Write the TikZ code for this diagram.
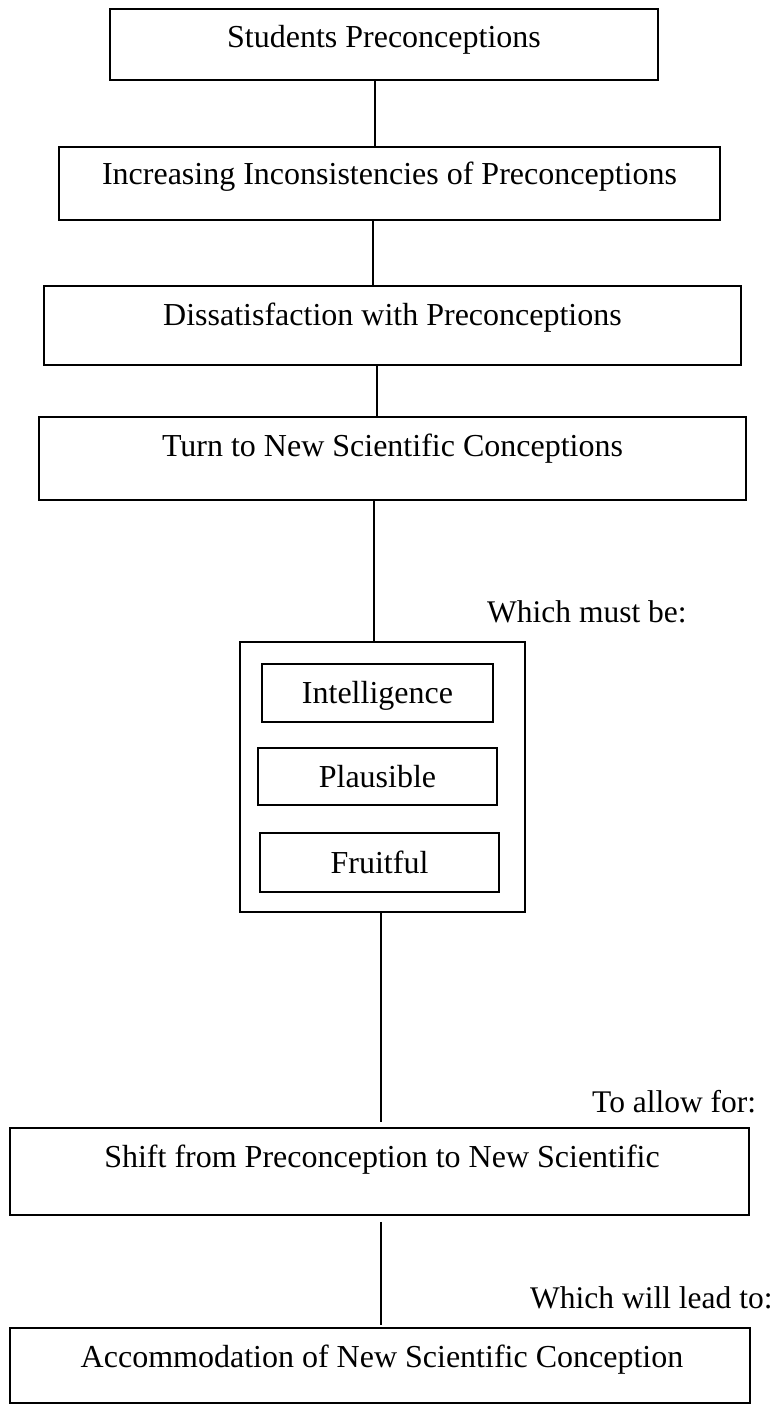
\documentclass[tikz,border=0pt]{standalone}
\usepackage{fontspec}
\setmainfont{Liberation Serif}
\begin{document}
\begin{tikzpicture}[x=1pt,y=-1pt,
  box/.style={draw=black, line width=1.7pt, rectangle, inner sep=0pt},
  txt/.style={anchor=base, inner sep=0pt, font=\fontsize{32pt}{38pt}\selectfont},
  side/.style={anchor=base west, inner sep=0pt, font=\fontsize{31.5pt}{38pt}\selectfont},
  conn/.style={draw=black, line width=1.4pt}]
\useasboundingbox (0,0) rectangle (778,1404);
% boxes
\node[box, minimum width=548pt, minimum height=71pt] (b1) at (384,44.5) {};
\node[txt] (b1t) at (384,48) {Students Preconceptions};
\node[box, minimum width=661pt, minimum height=73pt] (b2) at (389.5,183.5) {};
\node[txt] (b2t) at (389.5,185) {Increasing Inconsistencies of Preconceptions};
\node[box, minimum width=697pt, minimum height=79pt] (b3) at (392.5,325.5) {};
\node[txt] (b3t) at (392.5,325) {Dissatisfaction with Preconceptions};
\node[box, minimum width=707pt, minimum height=83pt] (b4) at (392.5,458.5) {};
\node[txt] (b4t) at (392.5,456) {Turn to New Scientific Conceptions};
% criteria group
\node[box, minimum width=285pt, minimum height=270pt] (grp) at (382.5,777) {};
\node[box, minimum width=231pt, minimum height=58pt] (c1) at (377.5,693) {};
\node[txt] (c1t) at (377.5,703) {Intelligence};
\node[box, minimum width=239pt, minimum height=57pt] (c2) at (377.5,776.5) {};
\node[txt] (c2t) at (377.5,787) {Plausible};
\node[box, minimum width=239pt, minimum height=59pt] (c3) at (379.5,862.5) {};
\node[txt] (c3t) at (379.5,873) {Fruitful};
% lower boxes
\node[box, minimum width=739pt, minimum height=87pt] (b5) at (379.5,1171.5) {};
\node[txt] (b5t) at (382,1167) {Shift from Preconception to New Scientific};
\node[box, minimum width=740pt, minimum height=75pt] (b6) at (380,1365.5) {};
\node[txt] (b6t) at (382,1367) {Accommodation of New Scientific Conception};
% side labels
\node[side] (l1) at (487,622) {Which must be:};
\node[side] (l2) at (592,1112) {To allow for:};
\node[side] (l3) at (530,1308) {Which will lead to:};
% connector x positions
\coordinate (x1) at (375,0);
\coordinate (x2) at (373,0);
\coordinate (x3) at (377,0);
\coordinate (x4) at (374,0);
\coordinate (x5) at (381,0);
% connectors
\draw[conn] (x1 |- b1.south) -- (x1 |- b2.north);
\draw[conn] (x2 |- b2.south) -- (x2 |- b3.north);
\draw[conn] (x3 |- b3.south) -- (x3 |- b4.north);
\draw[conn] (x4 |- b4.south) -- (x4 |- grp.north);
\draw[conn, shorten >=5pt] (x5 |- grp.south) -- (x5 |- b5.north);
\draw[conn, shorten <=6pt, shorten >=2pt] (x5 |- b5.south) -- (x5 |- b6.north);
\end{tikzpicture}
\end{document}
